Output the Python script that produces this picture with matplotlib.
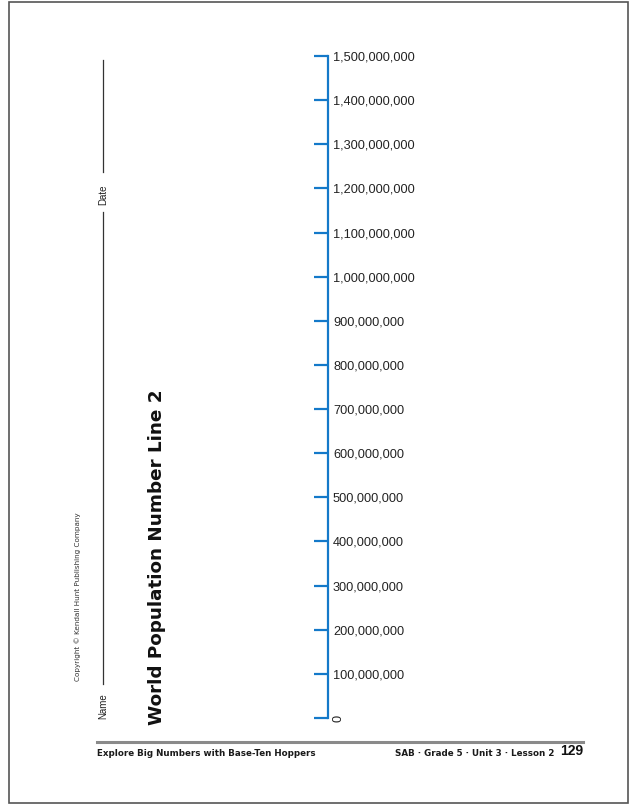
import matplotlib
matplotlib.use("Agg")
import matplotlib.pyplot as plt
import matplotlib.transforms as mtransforms
from matplotlib.patches import Rectangle
from matplotlib.lines import Line2D

# ---- data ----
tick_values = [0, 100000000, 200000000, 300000000, 400000000, 500000000,
               600000000, 700000000, 800000000, 900000000, 1000000000,
               1100000000, 1200000000, 1300000000, 1400000000, 1500000000]
tick_labels = ["0", "100,000,000", "200,000,000", "300,000,000", "400,000,000",
               "500,000,000", "600,000,000", "700,000,000", "800,000,000",
               "900,000,000", "1,000,000,000", "1,100,000,000", "1,200,000,000",
               "1,300,000,000", "1,400,000,000", "1,500,000,000"]
title = "World Population Number Line 2"
footer_left = "Explore Big Numbers with Base-Ten Hoppers"
footer_right = "SAB \u00b7 Grade 5 \u00b7 Unit 3 \u00b7 Lesson 2"
page_number = "129"
copyright_text = "Copyright \u00a9 Kendall Hunt Publishing Company"

W, H = 637, 806
DPI = 100
fig = plt.figure(figsize=(W / DPI, H / DPI), dpi=DPI)
fig.patch.set_facecolor("white")

def fx(px):
    return px / W

def fy(py):
    return 1 - py / H

BLUE = "#1479c9"

# number line axes
y0_px, y1_px = 718, 56
spine_x = 328
ax = fig.add_axes([fx(spine_x), fy(y0_px), 0.1, (y0_px - y1_px) / H])
ax.set_ylim(tick_values[0], tick_values[-1])
ax.set_xlim(0, 1)
for s in ["top", "right", "bottom"]:
    ax.spines[s].set_visible(False)
ax.spines["left"].set_color(BLUE)
ax.spines["left"].set_linewidth(1.6)
ax.set_xticks([])
ax.set_yticks(tick_values)
ax.set_yticklabels(tick_labels)
ax.tick_params(axis="y", left=True, right=False, labelleft=False, labelright=True,
               direction="out", length=10, width=1.6, color=BLUE, pad=4,
               labelsize=9.2, labelcolor="#222222")
ax.patch.set_visible(False)
offset = mtransforms.ScaledTranslation(5 / DPI, 0, fig.dpi_scale_trans)
for t in ax.yaxis.get_major_ticks():
    t.label2.set_fontfamily("Liberation Sans")
    t.label2.set_x(0)
    t.label2.set_transform(ax.get_yaxis_transform(which="tick2") + offset)
first = ax.yaxis.get_major_ticks()[0].label2
first.set_rotation(90)
first.set_verticalalignment("center")

# page border
fig.patches.append(Rectangle((fx(9), fy(803)), fx(628) - fx(9), fy(2) - fy(803),
                             transform=fig.transFigure, fill=False,
                             edgecolor="#555555", linewidth=1.2))

# name / date line
lc = "#333333"
fig.add_artist(Line2D([fx(103), fx(103)], [fy(60), fy(172)], color=lc, lw=0.9,
                      transform=fig.transFigure))
fig.add_artist(Line2D([fx(103), fx(103)], [fy(212), fy(684)], color=lc, lw=0.9,
                      transform=fig.transFigure))
fig.text(fx(103), fy(195), "Date", rotation=90, ha="center", va="center",
         fontsize=7, family="Liberation Sans", color="#222222")
fig.text(fx(103), fy(706), "Name", rotation=90, ha="center", va="center",
         fontsize=7, family="Liberation Sans", color="#222222")

# copyright
fig.text(fx(78), fy(597), copyright_text, rotation=90, ha="center", va="center",
         fontsize=5.2, family="Liberation Sans Narrow", color="#333333")

# title
fig.text(fx(157), fy(557), title, rotation=90, ha="center", va="center",
         fontsize=13.2, fontweight="bold", family="DejaVu Sans", color="#111111")

# footer
fig.add_artist(Line2D([fx(97), fx(583)], [fy(742), fy(742)], color="#8a8a8a", lw=2.2,
                      transform=fig.transFigure))
fig.text(fx(97), fy(753), footer_left, ha="left", va="center", fontsize=6.3,
         fontweight="bold", family=["Liberation Sans Narrow", "DejaVu Sans"],
         color="#1a1a1a")
fig.text(fx(554), fy(753), footer_right, ha="right", va="center", fontsize=6.3,
         fontweight="bold", family=["Liberation Sans Narrow", "DejaVu Sans"],
         color="#1a1a1a")
fig.text(fx(583), fy(751), page_number, ha="right", va="center", fontsize=10,
         fontweight="bold", family="Liberation Sans", color="#111111")

fig.savefig("out.png", dpi=DPI)
